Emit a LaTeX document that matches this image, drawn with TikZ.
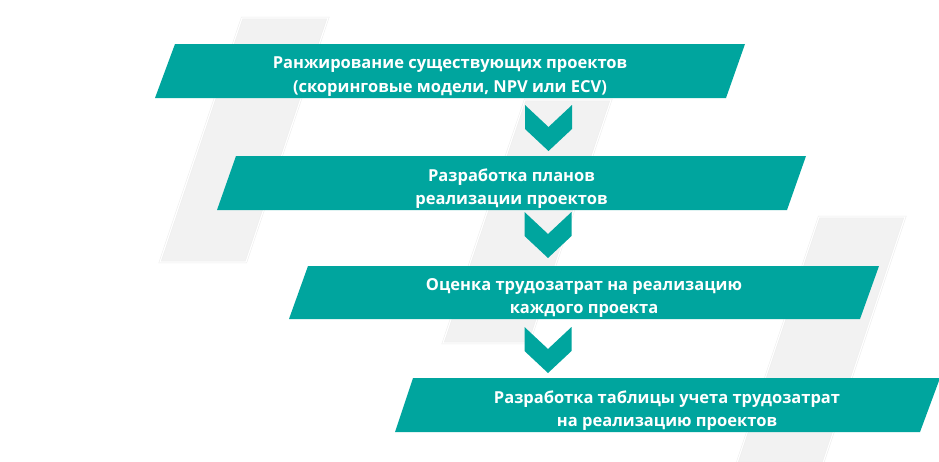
\documentclass[tikz,border=0pt]{standalone}
\usepackage{fontspec}
\setmainfont{Open Sans}
\definecolor{tealbox}{RGB}{0,165,158}
\definecolor{bggray}{RGB}{242,242,242}
\tikzset{
  stepbox/.style={fill=tealbox},
  steptext/.style={text=white, font=\fontsize{16.5}{23.5}\selectfont\bfseries, align=center, inner sep=0pt},
  bgbar/.style={fill=bggray, draw=black!7, line width=0.5pt, double=white, double distance=1.2pt},
  chevron/.pic={\fill[tealbox] (-23.5,0) -- (0,22) -- (23.5,0) -- (23.5,24) -- (0,46) -- (-23.5,24) -- cycle;}
}
\begin{document}
\begin{tikzpicture}[x=1pt,y=-1pt]
\useasboundingbox (0,0) rectangle (939,461);
\fill[white] (0,0) rectangle (939,461);
% background bars
\draw[bgbar] (242,18) -- (328,18) -- (246,262) -- (160,262) -- cycle;
\draw[bgbar] (525,100) -- (611,100) -- (529,343) -- (443,343) -- cycle;
\draw[bgbar] (819,217) -- (905,217) -- (823,463) -- (737,463) -- cycle;
% step boxes
\fill[stepbox] (175,44) -- (745,44) -- (726,98) -- (155,98) -- cycle;
\fill[stepbox] (236,156) -- (806,156) -- (787,210) -- (217,210) -- cycle;
\fill[stepbox] (308,266) -- (879,266) -- (860,319) -- (289,319) -- cycle;
\fill[stepbox] (413,378) -- (940,378) -- (920,432) -- (395,432) -- cycle;
\node[steptext] (s1) at (450,76.5) {Ранжирование существующих проектов\\(скоринговые модели, NPV или ECV)};
\node[steptext] (s2) at (511.5,188.5) {Разработка планов\\реализации проектов};
\node[steptext] (s3) at (584,298) {Оценка трудозатрат на реализацию\\каждого проекта};
\node[steptext] (s4) at (667,410.5) {Разработка таблицы учета трудозатрат\\на реализацию проектов};
% chevrons
\pic at (548.5,105) {chevron};
\pic at (548,212) {chevron};
\pic at (548,327) {chevron};
\end{tikzpicture}
\end{document}
